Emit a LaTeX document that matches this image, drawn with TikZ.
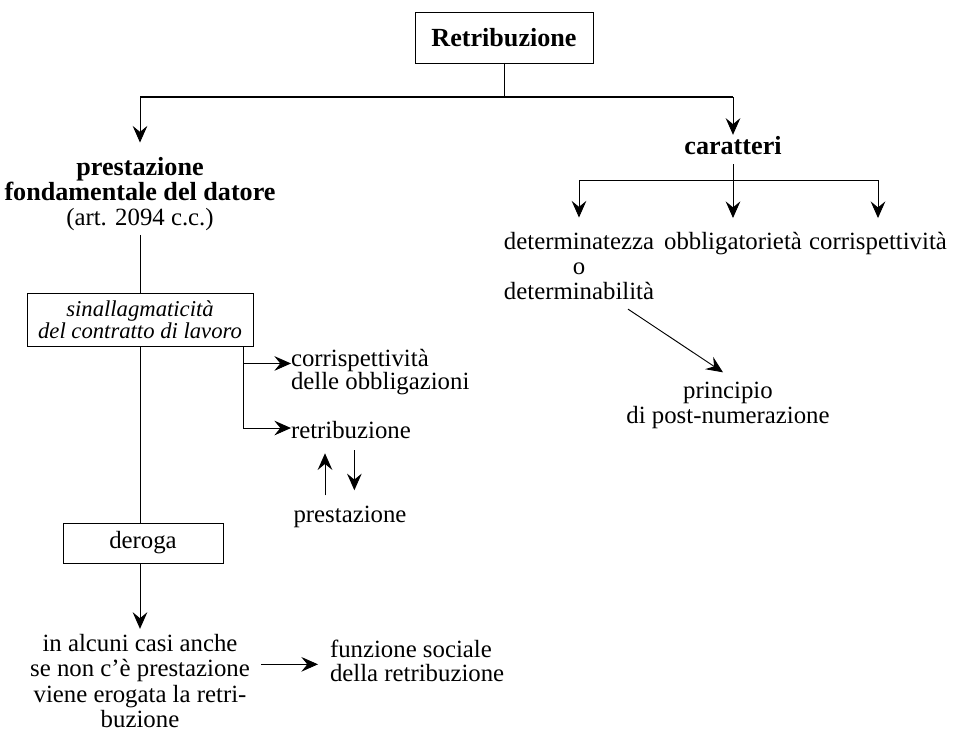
\documentclass[tikz,border=0pt]{standalone}
\usepackage{fontspec}
\setmainfont{Liberation Serif}
\usetikzlibrary{arrows.meta}
\newcommand\bfl[1]{{\fontsize{19.6}{18.8}\selectfont\bfseries #1}}
\begin{document}
\begin{tikzpicture}[x=0.75pt,y=-0.75pt,
  txt/.style={inner sep=0pt, outer sep=0pt, align=center, font=\fontsize{18.6}{18.8}\selectfont},
  bld/.style={txt, font=\fontsize{19.6}{18.8}\selectfont\bfseries},
  itl/.style={txt, font=\fontsize{17}{16.5}\selectfont\itshape},
  boxed/.style={draw, line width=0.7pt},
  ln/.style={line width=0.7pt},
  arr/.style={ln, -{Stealth[length=12.5pt,width=11pt,inset=4.5pt]}},
]
\useasboundingbox (0,0) rectangle (953,734);
% nodes
\node[bld, boxed, minimum width=133.5pt, minimum height=38.25pt] (ret) at (504,37.5) {Retribuzione};
\coordinate (j) at (504,97);
\node[txt] (pre) at (140,194) {\bfl{prestazione}\\\bfl{fondamentale del datore}\\(art. 2094 c.c.)};
\node[bld] (car) at (733,146) {caratteri};
\coordinate (b) at (733,180);
\node[txt] (det) at (579,266) {determinatezza\\o\\determinabilità};
\node[txt] (obl) at (733,244) {obbligatorietà};
\node[txt] (cor) at (878,244) {corrispettività};
\node[txt] (prin) at (728,405.5) {principio\\di post-numerazione};
\node[itl, boxed, minimum width=169.5pt, minimum height=39.75pt] (sin) at (140,319.5) {sinallagmaticità\\del contratto di lavoro};
\node[txt, align=left, anchor=west, font=\fontsize{18.6}{17.5}\selectfont] (cor2) at (291,372) {corrispettività\\delle obbligazioni};
\node[txt, anchor=west] (ret2) at (291,430.3) {retribuzione};
\node[txt] (pre2) at (350,517) {prestazione};
\node[txt, boxed, minimum width=120pt, minimum height=30pt] (der) at (143,543) {deroga};
\node[txt] (alc) at (140,681) {in alcuni casi anche\\se non c’è prestazione\\viene erogata la retri-\\buzione};
\node[txt, align=left, anchor=west, font=\fontsize{18.6}{17.5}\selectfont] (fun) at (330,661) {funzione sociale\\della retribuzione};
% connectors
\draw[ln] (ret.south) -- (j);
\draw[arr, shorten >=11pt] (j) -| (pre.north);
\draw[arr, shorten >=1.5pt] (j) -| (car.north);
\draw[line width=1pt] (j -| pre.north) -- (j -| car.north);
\draw[arr, shorten <=6.75pt, shorten >=11pt] (car.south) -- (obl.north);
\draw[arr, shorten >=11pt] (b) -| (det.north);
\draw[arr, shorten >=11pt] (b) -| (cor.north);
\coordinate (ds) at ([xshift=36.75pt,yshift=-7pt]det.south);
\coordinate (de) at ([xshift=-3.75pt,yshift=7.35pt]prin.north);
\draw[arr] (ds) -- (de);
\draw[ln, shorten <=3pt] (pre.south) -- (pre.south |- sin.north);
\draw[ln] (sin.south) -- (sin.south |- der.north);
\draw[arr, shorten >=4.35pt] (sin.south |- der.south) -- (alc.north);
\coordinate (s1) at ([xshift=-7.5pt]sin.south east);
\coordinate (c2) at ([yshift=6.4pt]cor2.west);
\coordinate (r2) at ([yshift=1.7pt]ret2.west);
\draw[arr] (s1) |- (c2);
\draw[arr] (s1) |- (r2);
\coordinate (ua) at ([xshift=-18.75pt]pre2.north);
\draw[arr, shorten <=8.1pt, shorten >=10.7pt] (ua) -- (ua |- ret2.south);
\coordinate (da) at ([xshift=2.6pt]ret2.south);
\draw[arr, shorten <=8.5pt, shorten >=11.9pt] (da) -- (da |- pre2.north);
\coordinate (fa) at ([yshift=-2.5pt]fun.west);
\draw[arr, shorten <=8.6pt, shorten >=9pt] (fa -| alc.east) -- (fa);
\end{tikzpicture}
\end{document}
